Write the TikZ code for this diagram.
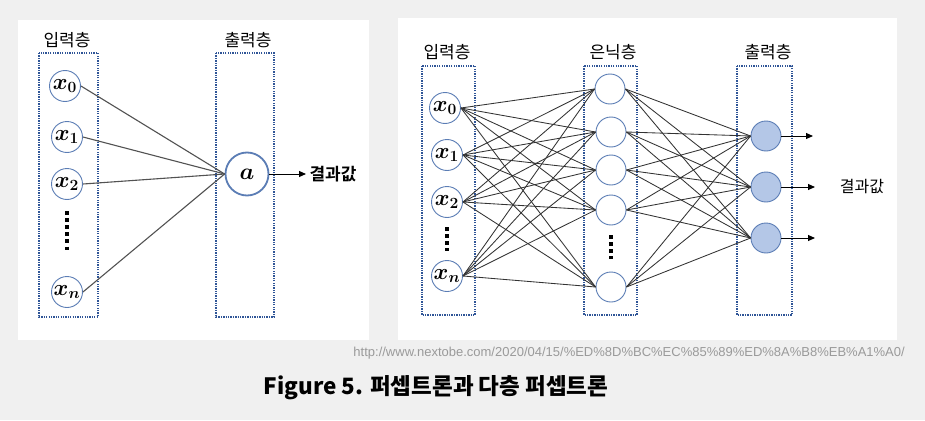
\documentclass[tikz,border=0pt]{standalone}
\usepackage{amsmath}
\usepackage{graphicx}
\usepackage{fontspec}
\setmainfont{Liberation Sans}
\newfontfamily\kr{Noto Sans CJK KR}
\newfontfamily\krb{Noto Sans CJK KR Bold}
\newfontfamily\krh{Noto Sans CJK KR Black}
\usetikzlibrary{arrows.meta}
\definecolor{bgc}{HTML}{F0F0F0}
\definecolor{boxc}{HTML}{2F5597}
\definecolor{nodec}{HTML}{5B7DB5}
\definecolor{fillc}{HTML}{B4C7E7}
\definecolor{edgec}{HTML}{333333}
\definecolor{urlc}{HTML}{9A9A9A}
\newcommand{\bx}[1]{\scalebox{1.3}{$\boldsymbol{x}_{\boldsymbol{#1}}$}}
\tikzset{
  layerbox/.style={draw=boxc, line width=1.3pt, dash pattern=on 1.3pt off 1.1pt},
  innode/.style={circle, draw=nodec, line width=0.9pt, fill=white, minimum size=31pt, inner sep=0pt, font=\fontsize{17}{17}\selectfont},
  hidnode/.style={circle, draw=nodec, line width=0.9pt, fill=white, minimum size=30pt, inner sep=0pt},
  outnode/.style={circle, draw=nodec, line width=0.9pt, fill=fillc, minimum size=30pt, inner sep=0pt},
  anode/.style={circle, draw=nodec, line width=1.8pt, fill=white, minimum size=43pt, inner sep=0pt, font=\fontsize{17}{17}\selectfont},
  conn/.style={draw=edgec, line width=0.85pt},
  connl/.style={draw=edgec!85, line width=1.1pt},
  outarr/.style={draw=black, line width=1pt, -{Triangle[length=7pt,width=6pt]}},
  lab/.style={font=\kr\fontsize{17}{17}\selectfont},
  vdots/.style={line width=3.8pt, dash pattern=on 3.8pt off 3.3pt}
}
\begin{document}
\begin{tikzpicture}[x=1pt,y=-1pt]
\useasboundingbox (0,0) rectangle (925,420);
\fill[bgc] (0,0) rectangle (925,420);
\fill[white] (18,20) rectangle (369,340);
\fill[white] (398,18) rectangle (897,340);

% ---------- left panel ----------
\node[lab] (lt1) at (67,40) {입력층};
\node[lab] (lt2) at (248,40) {출력층};
\draw[layerbox] (39,53) rectangle (98,317);
\draw[layerbox] (216,53) rectangle (274,317);
\node[innode] (L0) at (65,86) {\bx{0}};
\node[innode] (L1) at (67,137) {\bx{1}};
\node[innode] (L2) at (67,184) {\bx{2}};
\node[innode] (Ln) at (67,292) {\bx{n}};
\coordinate (ld1) at (67,211);
\coordinate (ld2) at (67,252);
\draw[vdots] (ld1) -- (ld2);
\node[anode] (La) at (247,174) {\scalebox{1.35}{$\boldsymbol{a}$}};
\foreach \n in {L0,L1,L2,Ln} \draw[connl] (\n.east) -- (La.west);
\node[font=\krb\fontsize{17}{17}\selectfont, anchor=west] (res1) at (306,174) {결과값};
\draw[outarr] (La.east) -- (res1.west);

% ---------- right panel ----------
\node[lab] (rt1) at (447,52) {입력층};
\node[lab] (rt2) at (613,52) {은닉층};
\node[lab] (rt3) at (768,52) {출력층};
\draw[layerbox] (422,66) rectangle (475,315);
\draw[layerbox] (584,66) rectangle (637,315);
\draw[layerbox] (737,66) rectangle (792,315);
\node[innode] (R0) at (445,108) {\bx{0}};
\node[innode] (R1) at (447,155) {\bx{1}};
\node[innode] (R2) at (447,202) {\bx{2}};
\node[innode] (Rn) at (447,276) {\bx{n}};
\coordinate (rd1) at (447,227);
\coordinate (rd2) at (447,251);
\draw[vdots] (rd1) -- (rd2);
\node[hidnode] (H1) at (610,89) {};
\node[hidnode] (H2) at (611,132) {};
\node[hidnode] (H3) at (611,170) {};
\node[hidnode] (H4) at (611,210) {};
\node[hidnode] (H5) at (611,287) {};
\coordinate (hd1) at (611,235);
\coordinate (hd2) at (611,259);
\draw[vdots] (hd1) -- (hd2);
\node[outnode] (O1) at (766,136) {};
\node[outnode] (O2) at (766,187) {};
\node[outnode] (O3) at (766,238) {};
\foreach \a in {R0,R1,R2,Rn}
  \foreach \b in {H1,H2,H3,H4,H5}
    \draw[conn] (\a.east) -- (\b.west);
\foreach \a in {H1,H2,H3,H4,H5}
  \foreach \b in {O1,O2,O3}
    \draw[conn] (\a.east) -- (\b.west);
\coordinate (e1) at (813,136);
\coordinate (e2) at (815,187);
\coordinate (e3) at (815,238);
\draw[outarr] (O1.east) -- (e1);
\draw[outarr] (O2.east) -- (e2);
\draw[outarr] (O3.east) -- (e3);
\node[font=\kr\fontsize{16}{16}\selectfont] (res2) at (862,187) {결과값};

% ---------- captions ----------
\node[font=\fontsize{13}{14}\selectfont, text=urlc, anchor=east, inner sep=0pt] (url) at (905,353) {http://www.nextobe.com/2020/04/15/\%ED\%8D\%BC\%EC\%85\%89\%ED\%8A\%B8\%EB\%A1\%A0/};
\node[font=\krh\fontsize{22.5}{23}\selectfont, inner sep=0pt] (title) at (436,388) {Figure 5. 퍼셉트론과 다층 퍼셉트론};
\end{tikzpicture}
\end{document}
